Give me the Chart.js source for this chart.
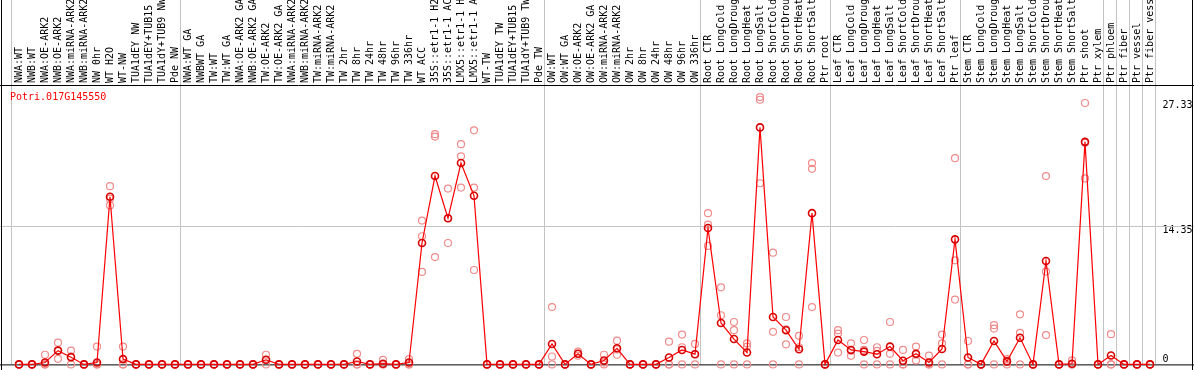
<!DOCTYPE html>
<html>
<head>
<meta charset="utf-8">
<script src="https://cdn.jsdelivr.net/npm/chart.js@4.4.1/dist/chart.umd.min.js"></script>
<style>
    html, body { margin: 0; padding: 0; background: #fff; }
    #wrap { width: 1194px; height: 370px; }
</style>
</head>
<body>
<div id="wrap"><canvas id="chart" width="1194" height="370"></canvas></div>
<script>
const geneName = 'Potri.017G145550';

const categories = [
    'NWA:WT', 'NWB:WT', 'NWA:OE-ARK2', 'NWB:OE-ARK2', 'NWA:miRNA-ARK2', 'NWB:miRNA-ARK2', 'NW 0hr',
    'WT H2O', 'WT-NW', 'TUA1dEY NW', 'TUA1dEY+TUB15', 'TUA1dY+TUB9 NW', 'Pde NW',
    'NWA:WT GA', 'NWBWT GA', 'TW:WT', 'TW:WT GA', 'NWA:OE-ARK2 GA', 'NWB:OE-ARK2 GA', 'TW:OE-ARK2',
    'TW:OE-ARK2 GA', 'NWA:miRNA-ARK2', 'NWB:miRNA-ARK2', 'TW:miRNA-ARK2', 'TW:miRNA-ARK2',
    'TW 2hr', 'TW 8hr', 'TW 24hr', 'TW 48hr', 'TW 96hr', 'TW 336hr', 'WT ACC',
    '35S::etr1-1 H2O', '35S::etr1-1 ACC', 'LMX5::etr1-1 H2O', 'LMX5::etr1-1 ACC',
    'WT-TW', 'TUA1dEY TW', 'TUA1dEY+TUB15', 'TUA1dY+TUB9 TW', 'Pde TW',
    'OW:WT', 'OW:WT GA', 'OW:OE-ARK2', 'OW:OE-ARK2 GA', 'OW:miRNA-ARK2', 'OW:miRNA-ARK2',
    'OW 2hr', 'OW 8hr', 'OW 24hr', 'OW 48hr', 'OW 96hr', 'OW 336hr',
    'Root CTR', 'Root LongCold', 'Root LongDrought', 'Root LongHeat', 'Root LongSalt',
    'Root ShortCold', 'Root ShortDrought', 'Root ShortHeat', 'Root ShortSalt', 'Ptr root',
    'Leaf CTR', 'Leaf LongCold', 'Leaf LongDrought', 'Leaf LongHeat', 'Leaf LongSalt',
    'Leaf ShortCold', 'Leaf ShortDrought', 'Leaf ShortHeat', 'Leaf ShortSalt', 'Ptr leaf',
    'Stem CTR', 'Stem LongCold', 'Stem LongDrought', 'Stem LongHeat', 'Stem LongSalt',
    'Stem ShortCold', 'Stem ShortDrought', 'Stem ShortHeat', 'Stem ShortSalt', 'Ptr shoot',
    'Ptr xylem', 'Ptr phloem', 'Ptr fiber', 'Ptr vessel', 'Ptr fiber vessel'
];

// mean expression per sample
const meanValues = [
    0, 0, 0.2, 1.43, 0.75, 0, 0.2, 17.4, 0.55, 0,
    0, 0, 0, 0, 0, 0, 0, 0, 0, 0.48,
    0, 0, 0, 0, 0, 0, 0.3, 0, 0.07, 0,
    0.2, 12.6, 19.55, 15.17, 20.9, 17.5, 0, 0, 0, 0,
    0, 2.12, 0, 1.1, 0, 0.41, 1.67, 0, 0, 0,
    0.72, 1.5, 1.06, 14.15, 4.3, 2.63, 1.23, 24.6, 4.92, 3.55,
    1.57, 15.7, 0, 2.53, 1.5, 1.33, 1.06, 1.85, 0.38, 1.1,
    0.2, 1.6, 12.98, 0.72, 0, 2.43, 0.31, 2.77, 0, 10.73,
    0, 0.07, 23.1, 0, 0.92, 0, 0, 0
];

// replicates
const rep1 = [
    0, 0, 1.0, 2.25, 1.43, 0, 1.85, 18.5, 1.85, 0,
    0, 0, 0, 0, 0, 0, 0, 0, 0, 1.0,
    0, 0, 0, 0, 0, 0, 1.1, 0, 0.48, 0,
    0.55, 14.93, 23.9, 18.25, 22.86, 24.3, 0, 0, 0, 0,
    0, 5.95, 0, 1.33, 0, 1.0, 2.46, 0, 0, 0,
    2.36, 3.1, 2.12, 15.7, 8.0, 4.4, 2.19, 27.75, 11.6, 4.92,
    2.97, 20.9, 0, 3.55, 2.19, 2.53, 1.78, 4.4, 1.5, 1.85,
    0.92, 3.1, 21.4, 2.43, 0, 4.07, 0.55, 5.2, 0, 19.55,
    0, 0.41, 27.13, 0, 3.14, 0, 0, 0
];
const rep2 = [
    0, 0, 0, 0.58, 0.8, 0, 0, 17.2, 0, 0,
    0, 0, 0, 0, 0, 0, 0, 0, 0, 0.45,
    0, 0, 0, 0, 0, 0, 0, 0, 0, 0,
    0, 13.3, 23.65, 15.17, 21.6, 18.35, 0, 0, 0, 0,
    0, 0.82, 0, 1.1, 0, 0.2, 1.0, 0, 0, 0,
    0, 1.78, 1.06, 14.5, 5.1, 3.55, 1.85, 27.47, 3.38, 3.65,
    1.78, 20.3, 0, 3.2, 1.42, 1.5, 1.4, 1.1, 0, 1.0,
    0, 2.19, 10.8, 0, 0, 3.72, 0.38, 3.28, 0, 9.63,
    0, 0, 23.0, 0, 0, 0, 0, 0
];
const rep3 = [
    0, 0, 0, 1.43, 0, 0, 0, 16.5, 0, 0,
    0, 0, 0, 0, 0, 0, 0, 0, 0, 0,
    0, 0, 0, 0, 0, 0, 0, 0, 0, 0,
    0, 9.6, 11.14, 12.6, 18.35, 9.8, 0, 0, 0, 0,
    0, 0, 0, 0.9, 0, 0, 1.55, 0, 0, 0,
    0, 0, 0, 12.3, 0, 0, 0, 18.8, 0, 2.08,
    0, 5.95, 0, 1.23, 0.89, 0, 0, 0, 0, 0.41,
    0, 0, 6.73, 0, 0, 0, 0, 0, 0, 3.04,
    0, 0, 19.3, 0, 0, 0, 0, 0
];

const yTicks = [0, 14.35, 27.33];
const yMax = 29.0;

// sample index where a separator line is drawn (before that sample)
const groupBreaks = [0, 13, 41, 53, 63, 73, 84, 85, 86, 87, 88];

const monoFont = 'DejaVu Sans Mono';

const framePlugin = {
    id: 'frame',
    beforeDatasetsDraw(chart) {
        const { ctx, chartArea, scales: { x, y } } = chart;
        const W = chart.width, H = chart.height;
        const step = x.getPixelForValue(1) - x.getPixelForValue(0);
        ctx.save();
        ctx.lineWidth = 1;

        ctx.strokeStyle = '#c3c3c3';
        ctx.beginPath();
        groupBreaks.forEach(i => {
            const px = Math.floor(x.getPixelForValue(i) - step / 2) - 0.5;
            ctx.moveTo(px, 0);
            ctx.lineTo(px, chartArea.bottom);
        });
        const mid = Math.round(y.getPixelForValue(yTicks[1])) + 0.5;
        ctx.moveTo(0, mid);
        ctx.lineTo(W, mid);
        ctx.stroke();

        ctx.strokeStyle = '#000';
        ctx.beginPath();
        ctx.moveTo(1.5, 0); ctx.lineTo(1.5, H);
        ctx.moveTo(W - 1.5, 0); ctx.lineTo(W - 1.5, H);
        ctx.moveTo(0, chartArea.top + 0.5); ctx.lineTo(W, chartArea.top + 0.5);
        ctx.moveTo(0, chartArea.bottom + 0.5); ctx.lineTo(W, chartArea.bottom + 0.5);
        ctx.stroke();

        ctx.fillStyle = '#ff0000';
        ctx.font = '10px "' + monoFont + '"';
        ctx.textBaseline = 'alphabetic';
        ctx.fillText(geneName, 10, 100);
        ctx.restore();
    }
};

function repDataset(label, data) {
    return {
        label: label,
        data: data,
        showLine: false,
        pointRadius: 3.5,
        pointBorderWidth: 1.2,
        pointBorderColor: 'rgb(240,140,140)',
        pointBackgroundColor: 'rgba(0,0,0,0)',
        clip: false
    };
}

new Chart(document.getElementById('chart').getContext('2d'), {
    type: 'line',
    data: {
        labels: categories,
        datasets: [
            {
                label: 'mean',
                data: meanValues,
                borderColor: '#ff0000',
                borderWidth: 1.2,
                tension: 0,
                pointRadius: 3.5,
                pointBorderWidth: 1.6,
                pointBorderColor: '#d80000',
                pointBackgroundColor: 'rgba(0,0,0,0)',
                clip: false
            },
            repDataset('rep 1', rep1),
            repDataset('rep 2', rep2),
            repDataset('rep 3', rep3)
        ]
    },
    options: {
        responsive: false,
        devicePixelRatio: 1,
        animation: false,
        layout: { padding: { left: 12.5, top: 0, right: 0, bottom: 2 } },
        plugins: {
            legend: { display: false },
            tooltip: { enabled: false },
            title: { display: false }
        },
        scales: {
            x: {
                position: 'top',
                offset: true,
                afterFit: s => {
                    s.height = 85;
                    s.paddingLeft = 0;
                    s.paddingRight = 0;
                },
                grid: { display: false, drawTicks: false },
                border: { display: false },
                ticks: {
                    autoSkip: false,
                    minRotation: 90,
                    maxRotation: 90,
                    padding: 2,
                    labelOffset: 12,
                    color: '#000',
                    font: { family: monoFont, size: 10 }
                }
            },
            y: {
                position: 'right',
                min: 0,
                max: yMax,
                afterBuildTicks: s => { s.ticks = yTicks.map(v => ({ value: v })); },
                afterFit: s => {
                    s.width = 37.5;
                    s.paddingTop = 0;
                    s.paddingBottom = 0;
                },
                grid: { display: false, drawTicks: false },
                border: { display: false },
                ticks: {
                    padding: 6,
                    color: '#000',
                    font: { family: monoFont, size: 10, lineHeight: 0.9 },
                    callback: v => v === 0 ? ['0', ''] : ['', String(v)]
                }
            }
        }
    },
    plugins: [framePlugin]
});
</script>
</body>
</html>
